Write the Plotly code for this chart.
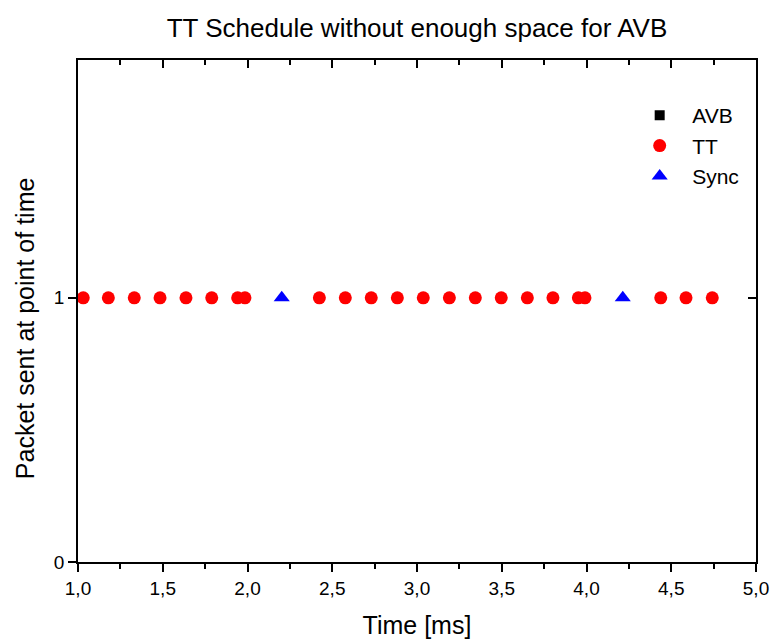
import plotly.graph_objects as go

# Data
tt_times = [1.031, 1.179, 1.332, 1.484, 1.637, 1.789, 1.942, 1.985,
            2.424, 2.577, 2.730, 2.884, 3.037, 3.191, 3.344, 3.497,
            3.651, 3.802, 3.952, 3.991, 4.438, 4.587, 4.742]
tt_values = [1] * len(tt_times)
sync_times = [2.202, 4.214]
sync_values = [1, 1]
avb_times = []
avb_values = []

x_range = [1.0, 5.0]
y_range = [0, 1.9]
y_ticks = [0, 1]

W, H = 771, 639
fig = go.Figure()
fig.add_trace(go.Scatter(x=avb_times if avb_times else [None], y=avb_values if avb_values else [None],
                         mode="markers", name="AVB",
                         marker=dict(symbol="square", color="black", size=10)))
fig.add_trace(go.Scatter(x=tt_times, y=tt_values, mode="markers", name="TT",
                         marker=dict(symbol="circle", color="#ff0000", size=13)))
fig.add_trace(go.Scatter(x=sync_times, y=sync_values, mode="markers", name="Sync",
                         marker=dict(symbol="triangle-up", color="#0000ff", size=14)))
# dummy trace for mirrored (inward) top/right ticks
fig.add_trace(go.Scatter(x=[None], y=[None], xaxis="x2", yaxis="y2", showlegend=False, hoverinfo="skip"))

font = "Liberation Sans, Arial, sans-serif"
fig.update_layout(
    width=W, height=H,
    paper_bgcolor="white", plot_bgcolor="white",
    separators=", ",
    margin=dict(l=78, r=15, t=60, b=77, autoexpand=False),
    font=dict(family=font, size=20, color="black"),
    title=dict(text="TT Schedule without enough space for AVB", x=(78 + 756) / 2 / W, xanchor="center",
               y=1 - 28 / H, yanchor="middle", font=dict(size=26)),
    showlegend=True,
    legend=dict(x=0.810, y=0.93, xanchor="left", yanchor="top", bgcolor="rgba(0,0,0,0)",
                font=dict(size=21), itemsizing="trace", tracegroupgap=0, itemwidth=55),
    xaxis=dict(range=x_range, dtick=0.5, tick0=1.0, tickformat=".1f", ticks="outside", ticklen=8,
               tickwidth=1.5, tickcolor="black", showline=True, linecolor="black", linewidth=1.5,
               mirror=True, showgrid=False, zeroline=False, automargin=False,
               minor=dict(ticks="outside", dtick=0.25, tick0=1.0, ticklen=5, tickwidth=1.5, tickcolor="black", showgrid=False),
               title=dict(text="Time [ms]", font=dict(size=25), standoff=21),
               tickfont=dict(size=19)),
    yaxis=dict(range=y_range, tickvals=y_ticks, ticks="outside", ticklen=8, tickwidth=1.5,
               tickcolor="black", showline=True, linecolor="black", linewidth=1.5, mirror=True,
               showgrid=False, zeroline=False, automargin=False,
               tickfont=dict(size=19)),
    xaxis2=dict(range=x_range, overlaying="x", side="top", anchor="y", dtick=0.5, tick0=1.0,
                ticks="inside", ticklen=8, tickwidth=1.5, tickcolor="black", showticklabels=False,
                showgrid=False, zeroline=False, showline=False, automargin=False,
                minor=dict(ticks="inside", dtick=0.25, tick0=1.0, ticklen=5, tickwidth=1.5, tickcolor="black", showgrid=False)),
    yaxis2=dict(range=y_range, overlaying="y", side="right", anchor="x", tickvals=y_ticks,
                ticks="inside", ticklen=8, tickwidth=1.5, tickcolor="black", showticklabels=False,
                showgrid=False, zeroline=False, showline=False, automargin=False),
)
# y-axis title (slightly below the plot centre, as in the reference)
fig.add_annotation(text="Packet sent at point of time", textangle=-90, showarrow=False,
                   xref="paper", yref="paper", x=-0.078, y=0.466, xanchor="center", yanchor="middle",
                   font=dict(size=25))

fig.write_html("out.html", config={"displayModeBar": False},
               post_script="document.body.style.margin='0';document.body.style.overflow='hidden';")
